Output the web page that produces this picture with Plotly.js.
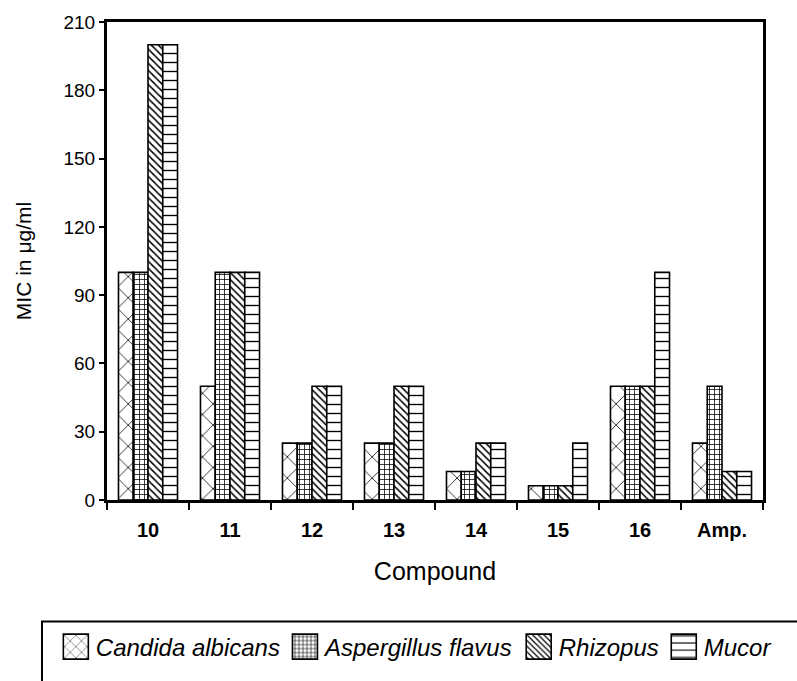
<!DOCTYPE html>
<html>
<head>
<meta charset="utf-8">
<script src="https://cdn.plot.ly/plotly-3.0.1.min.js"></script>
<style>html,body{margin:0;padding:0;background:#fff;}</style>
</head>
<body>
<div id="chart" style="width:797px;height:681px;"></div>
<script>
const categories = ['10', '11', '12', '13', '14', '15', '16', 'Amp.'];
const seriesNames = ['Candida albicans', 'Aspergillus flavus', 'Rhizopus', 'Mucor'];
const candida = [100, 50, 25, 25, 12.5, 6.25, 50, 25];
const aspergillus = [100, 100, 25, 25, 12.5, 6.25, 50, 50];
const rhizopus = [200, 100, 50, 50, 25, 6.25, 50, 12.5];
const mucor = [200, 100, 50, 50, 25, 25, 100, 12.5];
const yTicks = [0, 30, 60, 90, 120, 150, 180, 210];

const FONT = 'Liberation Sans, Arial, Helvetica, sans-serif';

function bar(name, values, shape, size, solidity) {
  return {
    type: 'bar',
    name: name,
    x: categories,
    y: values,
    marker: {
      color: '#ffffff',
      line: {color: '#000000', width: 1.6},
      pattern: {shape: shape, size: size, solidity: solidity, fgcolor: '#000000', bgcolor: '#ffffff', fillmode: 'replace'}
    },
    hoverinfo: 'x+y+name'
  };
}

const data = [
  bar(seriesNames[0], candida, 'x', 15, 0.1),
  bar(seriesNames[1], aspergillus, '+', 5, 0.28),
  bar(seriesNames[2], rhizopus, '\\', 5, 0.3),
  bar(seriesNames[3], mucor, '-', 9, 0.15)
];

const layout = {
  width: 797,
  height: 681,
  margin: {l: 107, r: 34, t: 22, b: 179},
  paper_bgcolor: '#ffffff',
  plot_bgcolor: '#ffffff',
  font: {family: FONT, color: '#000000', size: 19},
  barmode: 'group',
  bargap: 0.28,
  bargroupgap: 0,
  showlegend: true,
  xaxis: {
    type: 'category',
    showline: true, linecolor: '#000', linewidth: 3, mirror: true,
    ticks: 'outside', tickson: 'boundaries', ticklen: 7, tickwidth: 2.5, tickcolor: '#000',
    ticklabelstandoff: 10,
    tickfont: {family: FONT, size: 20, weight: 'bold', color: '#000'},
    showgrid: false, zeroline: false,
    title: {text: 'Compound', font: {family: FONT, size: 25, color: '#000'}, standoff: 23}
  },
  yaxis: {
    range: [0, 210],
    tickvals: yTicks,
    ticktext: yTicks.map(String),
    showline: true, linecolor: '#000', linewidth: 3, mirror: true,
    ticks: 'outside', ticklen: 5, tickwidth: 2, tickcolor: '#000',
    tickfont: {family: FONT, size: 19, color: '#000'},
    showgrid: false, zeroline: false,
    title: {text: 'MIC in μg/ml', font: {family: FONT, size: 21, color: '#000'}, standoff: 27}
  },
  legend: {
    orientation: 'h',
    x: -0.078, xanchor: 'left',
    y: -0.2605, yanchor: 'top',
    font: {family: FONT, size: 24, style: 'italic', color: '#000'},
    bgcolor: 'rgba(0,0,0,0)',
    borderwidth: 0,
    traceorder: 'normal'
  },
  shapes: [{
    type: 'rect', xref: 'paper', yref: 'paper',
    x0: -0.0991, x1: 1.07, y0: -0.42, y1: -0.2542,
    line: {color: '#000', width: 2}, fillcolor: 'rgba(0,0,0,0)'
  }]
};

Plotly.newPlot('chart', data, layout, {displayModeBar: false, staticPlot: true}).then(function (gd) {
  const paths = gd.querySelectorAll('.legend .legendpoints path');
  paths.forEach(function (p) {
    p.setAttribute('d', 'M12.5,12.5H-12.5V-12.5H12.5Z');
  });
});
</script>
</body>
</html>
